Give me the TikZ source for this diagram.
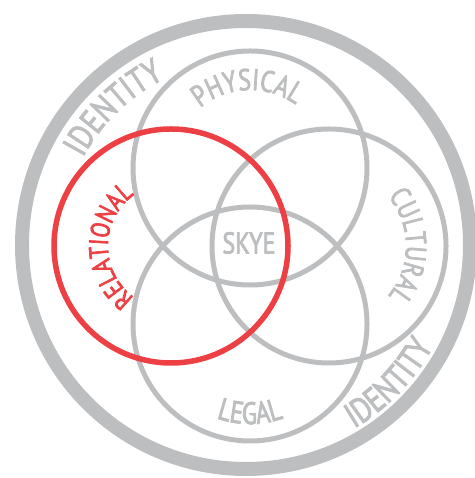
\documentclass[tikz,border=0pt]{standalone}
\usepackage{fontspec}
\setmainfont{PT Sans}[FakeStretch=0.8, FakeBold=2.5]
\usetikzlibrary{decorations.text}
\definecolor{ringgray}{RGB}{188,190,192}
\definecolor{relred}{RGB}{237,64,68}
\tikzset{
  ring/.style={circle, draw=ringgray, line width=5pt, minimum size=234pt, inner sep=0pt},
  arctext/.style n args={3}{decorate, decoration={text along path,
      text={|\fontsize{#1}{#1}\selectfont|#2}, text align=center, text color=#3}}
}
\begin{document}
\begin{tikzpicture}[x=1pt, y=1pt]
    \useasboundingbox (0,0) rectangle (474,478);

    % 外側の円
    \node[circle, draw=ringgray, line width=14pt, minimum size=448pt, inner sep=0pt] (outer) at (246,233) {};

    % 四つの円
    \node[ring] (physical) at (250,310) {};
    \node[ring] (cultural) at (329,232) {};
    \node[ring] (legal) at (250,154) {};
    \node[ring, draw=relred, line width=5.5pt] (relational) at (171,232) {};

    % 文字を入れる
    \node[text=ringgray, font=\fontsize{30}{30}\selectfont, inner sep=0pt] (skye) at (249,235) {SKYE};
    \path[arctext={35}{IDENTITY}{ringgray}] ([shift={(172:185)}]outer.center) arc[start angle=172, end angle=96, radius=185];
    \path[arctext={35}{IDENTITY}{ringgray}] ([shift={(-82:213)}]outer.center) arc[start angle=-82, end angle=-6, radius=213];
    \path[arctext={30}{PHYSICAL}{ringgray}] ([shift={(152:78)}]physical.center) arc[start angle=152, end angle=32, radius=78];
    \path[arctext={29}{CULTURAL}{ringgray}] ([shift={(60:77)}]cultural.center) arc[start angle=60, end angle=-60, radius=77];
    \path[arctext={31}{LEGAL}{ringgray}] ([shift={(-150:100)}]legal.center) arc[start angle=-150, end angle=-30, radius=100];
    \path[arctext={27}{RELATIONAL}{relred}] ([shift={(250:63)}]relational.center) arc[start angle=250, end angle=110, radius=63];
\end{tikzpicture}
\end{document}
